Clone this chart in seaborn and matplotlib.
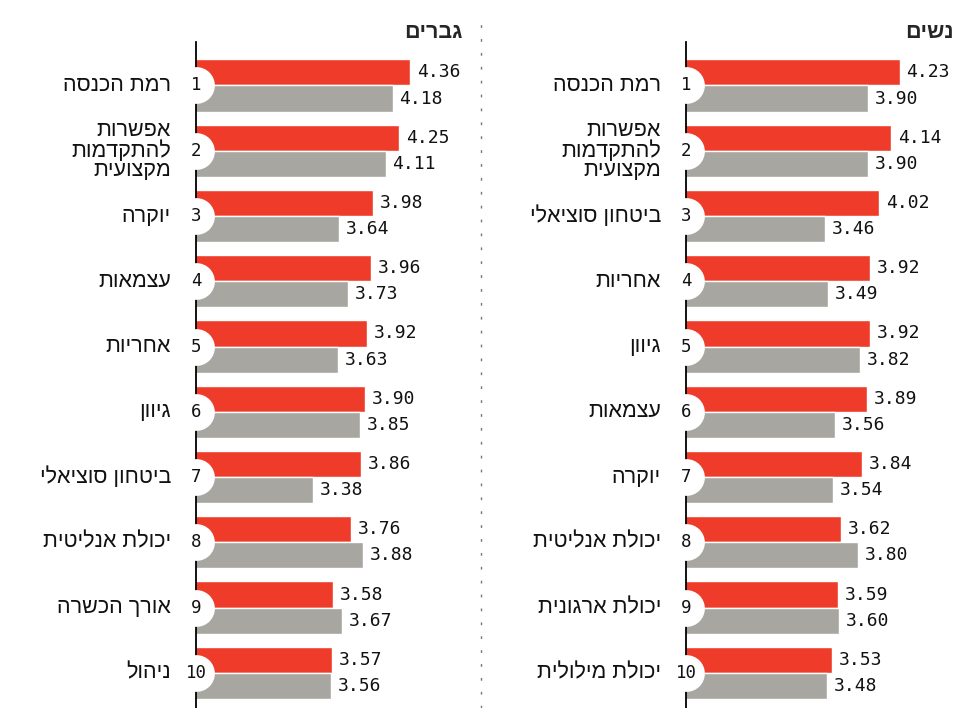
import matplotlib.pyplot as plt
from matplotlib.lines import Line2D
import pandas as pd
import seaborn as sns

ranks = list(range(1, 11))

men_labels = ["רמת הכנסה", "אפשרות\nלהתקדמות\nמקצועית", "יוקרה", "עצמאות", "אחריות",
              "גיוון", "ביטחון סוציאלי", "יכולת אנליטית", "אורך הכשרה", "ניהול"]
men_red = [4.36, 4.25, 3.98, 3.96, 3.92, 3.90, 3.86, 3.76, 3.58, 3.57]
men_gray = [4.18, 4.11, 3.64, 3.73, 3.63, 3.85, 3.38, 3.88, 3.67, 3.56]

women_labels = ["רמת הכנסה", "אפשרות\nלהתקדמות\nמקצועית", "ביטחון סוציאלי", "אחריות", "גיוון",
                "עצמאות", "יוקרה", "יכולת אנליטית", "יכולת ארגונית", "יכולת מילולית"]
women_red = [4.23, 4.14, 4.02, 3.92, 3.92, 3.89, 3.84, 3.62, 3.59, 3.53]
women_gray = [3.90, 3.90, 3.46, 3.49, 3.82, 3.56, 3.54, 3.80, 3.60, 3.48]

RED = "#EF3C2A"
GRAY = "#A8A6A0"

sns.set_style("white")
plt.rcParams["font.family"] = ["Liberation Sans", "DejaVu Sans"]


def heb(s):
    # matplotlib has no bidi support: flip each line to visual order
    return "\n".join(line[::-1] for line in s.split("\n"))


def panel(ax, labels, red, gray, xmin, xmax):
    df = pd.DataFrame({
        "rank": [str(r) for r in ranks] * 2,
        "value": red + gray,
        "series": ["red"] * len(red) + ["gray"] * len(gray),
    })
    sns.barplot(data=df, x="value", y="rank", hue="series", orient="h",
                palette=[RED, GRAY], width=0.8, dodge=True, saturation=1,
                legend=False, errorbar=None, ax=ax,
                order=[str(r) for r in ranks])
    ax.set_xlim(xmin, xmax)
    ax.set_ylim(9.539, -0.671)
    for cont, vals in zip(ax.containers, [red, gray]):
        ax.bar_label(cont, labels=[f"{v:.2f}" for v in vals], padding=5,
                     fontsize=13, family="DejaVu Sans Mono", color="#111111")
    for sp in ["top", "right", "bottom"]:
        ax.spines[sp].set_visible(False)
    ax.spines["left"].set_color("black")
    ax.spines["left"].set_linewidth(1.3)
    ax.set_xticks([])
    ax.set_yticks([])
    ax.set_xlabel("")
    ax.set_ylabel("")
    ax.patch.set_alpha(0)

    pos = list(range(len(ranks)))
    ax.scatter([xmin] * len(pos), pos, s=700, color="white", zorder=5, clip_on=False, linewidths=0)
    for i, r in enumerate(ranks):
        ax.text(xmin, i, str(r), ha="center", va="center", fontsize=12.5,
                family="DejaVu Sans Mono", zorder=6, color="#111111")
        ax.annotate(heb(labels[i]), xy=(xmin, i), xytext=(-25, 0), textcoords="offset pixels",
                    ha="right", va="center", multialignment="right", fontsize=15.5,
                    linespacing=0.92, color="#111111", annotation_clip=False)


fig = plt.figure(figsize=(9.58, 7.08), dpi=100)
W, H = 958, 708
ax_m = fig.add_axes([196 / W, 0, 279 / W, (H - 41.7) / H])
ax_w = fig.add_axes([686 / W, 0, 272 / W, (H - 41.7) / H])

panel(ax_m, men_labels, men_red, men_gray, 2.195, 2.195 + 279 / 99)
panel(ax_w, women_labels, women_red, women_gray, 2.017, 2.017 + 272 / 96.5)

fig.text(463 / W, 1 - 32 / H, heb("גברים"), ha="right", va="center", fontsize=15.5, fontweight="bold")
fig.text(905 / W, 1 - 32 / H, heb("נשים"), ha="left", va="center", fontsize=15.5, fontweight="bold")

fig.add_artist(Line2D([481 / W, 481 / W], [0, 1 - 22 / H], transform=fig.transFigure,
                      color="#777777", linewidth=1, linestyle=(0, (2, 8))))

fig.savefig("out.png", dpi=100)
